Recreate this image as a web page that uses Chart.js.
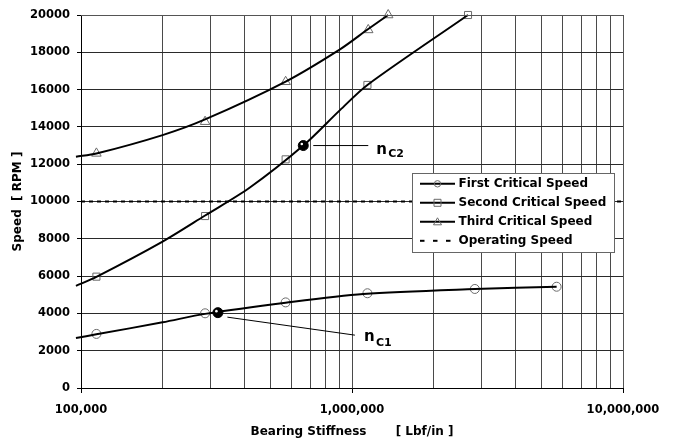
<!DOCTYPE html>
<html>
<head>
<meta charset="utf-8">
<script src="https://cdn.jsdelivr.net/npm/chart.js@4"></script>
<style>
html,body{margin:0;padding:0;background:#fff;}
#wrap{width:674px;height:442px;position:relative;}
</style>
</head>
<body>
<div id="wrap"><canvas id="c" width="674" height="442"></canvas></div>
<script>
// ---- data ----
const seriesNames = ['First Critical Speed', 'Second Critical Speed', 'Third Critical Speed', 'Operating Speed'];

// smooth curves (stiffness [lbf/in], speed [rpm])
const firstCurveX  = [95800, 114000, 200000, 287000, 569000, 1100000, 2840000, 5690000];
const firstCurveY  = [2680, 2880, 3520, 3975, 4575, 5040, 5310, 5430];
const secondCurveX = [95800, 114000, 200000, 287000, 420000, 661000, 903000, 1140000, 2680000];
const secondCurveY = [5480, 5960, 7850, 9250, 10750, 13000, 14900, 16250, 20000];
const thirdCurveX  = [95800, 114000, 200000, 287000, 569000, 903000, 1148000, 1360000];
const thirdCurveY  = [12400, 12570, 13560, 14400, 16430, 18160, 19250, 20000];

// data markers
const firstMarkX  = [114000, 287000, 569000, 1140000, 2840000, 5690000];
const firstMarkY  = [2900, 4005, 4590, 5080, 5310, 5430];
const secondMarkX = [114000, 287000, 569000, 1140000, 2680000];
const secondMarkY = [5970, 9220, 12260, 16250, 20000];
const thirdMarkX  = [114000, 287000, 569000, 1148000, 1360000];
const thirdMarkY  = [12580, 14280, 16420, 19200, 20000];

// operating speed
const operatingX = [100000, 10000000];
const operatingY = [10000, 10000];

// critical speed points n_C1, n_C2
const critLabels = ['C1', 'C2'];
const critX = [320000, 661000];
const critY = [4040, 13000];

// axes
const xMajorValues = [100000, 1000000, 10000000];
const xMajorLabels = ['100,000', '1,000,000', '10,000,000'];
const yMin = 0, yMax = 20000, yStep = 2000;
const xTitle = 'Bearing Stiffness       [ Lbf/in ]';
const yTitle = 'Speed  [ RPM ]';

// ---- helpers ----
const pts = (xs, ys) => xs.map((x, i) => ({x: x, y: ys[i]}));
const FONT = 'DejaVu Sans';
const xGridValues = [];
for (let d = 0; d < xMajorValues.length - 1; d++) {
  for (let m = 1; m < 10; m++) xGridValues.push(xMajorValues[d] * m);
}
xGridValues.push(xMajorValues[xMajorValues.length - 1]);

const curveStyle = {
  type: 'line', showLine: true, borderColor: '#000', borderWidth: 2,
  pointRadius: 0, pointHoverRadius: 0, cubicInterpolationMode: 'default', tension: 0.3,
  clip: {left: 6, top: 1, right: 0, bottom: 0}
};
const markStyle = {
  type: 'scatter', showLine: false, borderColor: '#6a6a6a', borderWidth: 1,
  backgroundColor: 'rgba(0,0,0,0)', pointRadius: 4.5, clip: false
};

// ---- annotation / legend / frame plugin ----
const extras = {
  id: 'extras',
  afterDatasetsDraw(chart) {
    const ctx = chart.ctx;
    const xs = chart.scales.x, ys = chart.scales.y;
    const ca = chart.chartArea;
    ctx.save();
    // frame top/right
    ctx.strokeStyle = '#555';
    ctx.lineWidth = 1;
    ctx.beginPath();
    ctx.moveTo(ca.left, ca.top + 0.5);
    ctx.lineTo(ca.right + 0.5, ca.top + 0.5);
    ctx.lineTo(ca.right + 0.5, ca.bottom);
    ctx.stroke();

    // critical points highlight + leader lines + labels
    const leaders = [
      {s: [9.5, 4.5], e: [137, 22.5], n: [9, 6.2], sub: [21, 10.5]},
      {s: [10, 0], e: [65, 0], n: [8, 8], sub: [20, 11]}
    ];
    critX.forEach((cx, i) => {
      const px = xs.getPixelForValue(cx), py = ys.getPixelForValue(critY[i]);
      ctx.fillStyle = '#fff';
      ctx.beginPath();
      ctx.arc(px - 1.5, py - 1.5, 1.3, 0, Math.PI * 2);
      ctx.fill();
      const L = leaders[i];
      ctx.strokeStyle = '#000';
      ctx.lineWidth = 1;
      ctx.beginPath();
      ctx.moveTo(px + L.s[0], py + L.s[1]);
      ctx.lineTo(px + L.e[0], py + L.e[1]);
      ctx.stroke();
      const ex = px + L.e[0], ey = py + L.e[1];
      ctx.fillStyle = '#000';
      ctx.textBaseline = 'alphabetic';
      ctx.textAlign = 'left';
      ctx.font = 'bold 15px "' + FONT + '"';
      ctx.fillText('n', ex + L.n[0], ey + L.n[1]);
      ctx.font = 'bold 11px "' + FONT + '"';
      ctx.fillText(critLabels[i], ex + L.sub[0], ey + L.sub[1]);
    });

    // legend
    const bx = 412.5, by = 173.5, bw = 202, bh = 79;
    ctx.fillStyle = '#fff';
    ctx.fillRect(bx, by, bw, bh);
    ctx.strokeStyle = '#666';
    ctx.lineWidth = 1;
    ctx.strokeRect(bx, by, bw, bh);
    const styles = ['circle', 'rect', 'triangle', 'dash'];
    seriesNames.forEach((name, i) => {
      const cy = by + 10.3 + i * 19;
      const x0 = 420, x1 = 455, xm = (x0 + x1) / 2;
      ctx.strokeStyle = '#000';
      ctx.lineWidth = 2;
      if (styles[i] === 'dash') {
        [0, 13, 26].forEach(o => {
          ctx.beginPath();
          ctx.moveTo(x0 + o, cy);
          ctx.lineTo(x0 + o + 4.5, cy);
          ctx.stroke();
        });
      } else {
        ctx.beginPath();
        ctx.moveTo(x0, cy);
        ctx.lineTo(x1, cy);
        ctx.stroke();
        ctx.strokeStyle = '#6a6a6a';
        ctx.lineWidth = 1;
        ctx.beginPath();
        if (styles[i] === 'circle') {
          ctx.arc(xm, cy, 3.2, 0, Math.PI * 2);
        } else if (styles[i] === 'rect') {
          ctx.rect(xm - 3.5, cy - 3.5, 7, 7);
        } else {
          ctx.moveTo(xm, cy - 4);
          ctx.lineTo(xm + 4, cy + 3);
          ctx.lineTo(xm - 4, cy + 3);
          ctx.closePath();
        }
        ctx.stroke();
      }
      ctx.fillStyle = '#000';
      ctx.font = 'bold 12px "' + FONT + '"';
      ctx.textAlign = 'left';
      ctx.textBaseline = 'middle';
      ctx.fillText(name, 458.5, cy + 0.5);
    });
    ctx.restore();
  }
};

new Chart(document.getElementById('c'), {
  type: 'scatter',
  data: {
    datasets: [
      Object.assign({label: seriesNames[0], data: pts(firstCurveX, firstCurveY)}, curveStyle),
      Object.assign({label: seriesNames[1], data: pts(secondCurveX, secondCurveY)}, curveStyle),
      Object.assign({label: seriesNames[2], data: pts(thirdCurveX, thirdCurveY)}, curveStyle),
      {label: seriesNames[3], type: 'line', showLine: true, data: pts(operatingX, operatingY),
       borderColor: '#000', borderWidth: 2, borderDash: [4, 4], pointRadius: 0, tension: 0},
      Object.assign({label: 'm1', data: pts(firstMarkX, firstMarkY), pointStyle: 'circle'}, markStyle),
      Object.assign({label: 'm2', data: pts(secondMarkX, secondMarkY), pointStyle: 'rect'}, markStyle, {pointRadius: 5}),
      Object.assign({label: 'm3', data: pts(thirdMarkX, thirdMarkY), pointStyle: 'triangle'}, markStyle, {pointRadius: 5.5}),
      {label: 'crit', type: 'scatter', showLine: false, data: pts(critX, critY), pointStyle: 'circle',
       pointRadius: 5, backgroundColor: '#000', borderColor: '#000', borderWidth: 1, clip: false}
    ]
  },
  options: {
    responsive: false,
    animation: false,
    events: [],
    layout: {padding: {left: 0, right: 51, top: 15, bottom: 0}},
    plugins: {legend: {display: false}, tooltip: {enabled: false}},
    scales: {
      x: {
        type: 'logarithmic',
        min: xMajorValues[0],
        max: xMajorValues[xMajorValues.length - 1],
        afterBuildTicks: (s) => {
          s.ticks = xGridValues.map(v => ({value: v, major: xMajorValues.includes(v)}));
        },
        afterFit: (s) => { s.height = 54; },
        ticks: {
          autoSkip: false, maxRotation: 0, padding: 10, color: '#000',
          font: {family: FONT, weight: 'bold', size: 11.5},
          callback: (v) => {
            const k = xMajorValues.indexOf(v);
            return k >= 0 ? xMajorLabels[k] : '';
          }
        },
        grid: {
          color: '#4a4a4a', lineWidth: 1, drawTicks: true, tickLength: 5,
          tickColor: (c) => (c.tick && xMajorValues.includes(c.tick.value)) ? '#000' : 'rgba(0,0,0,0)'
        },
        border: {color: '#000', width: 1},
        title: {display: true, text: xTitle, color: '#000',
                font: {family: FONT, weight: 'bold', size: 12}, padding: {top: 0, bottom: 3}}
      },
      y: {
        type: 'linear',
        min: yMin, max: yMax,
        afterFit: (s) => { s.width = 81; },
        ticks: {
          stepSize: yStep, padding: 7, color: '#000',
          font: {family: FONT, weight: 'bold', size: 11.5},
          callback: (v) => String(v)
        },
        grid: {color: '#2a2a2a', lineWidth: 1, tickLength: 4, tickColor: '#000'},
        border: {color: '#000', width: 1},
        title: {display: true, text: yTitle, color: '#000',
                font: {family: FONT, weight: 'bold', size: 12}, padding: {top: 11, bottom: 0}}
      }
    }
  },
  plugins: [extras]
});
</script>
</body>
</html>
